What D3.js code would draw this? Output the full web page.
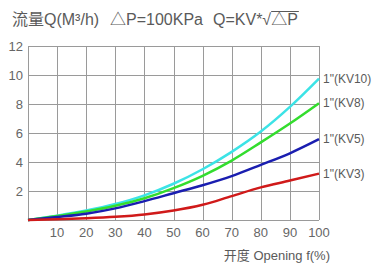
<!DOCTYPE html>
<html>
<head>
<meta charset="utf-8">
<script src="https://cdn.jsdelivr.net/npm/d3@7"></script>
<style>
  body { margin: 0; background: #fff; }
  text { font-family: "Liberation Sans", "Noto Sans CJK SC", sans-serif; fill: #5a5a5a; }
</style>
</head>
<body>
<div id="chart"></div>
<script>
// chart size
var width = 372,
    height = 264;

var margin = { top: 46, right: 53, bottom: 44, left: 28 };

// data
var openings = [0, 10, 20, 30, 40, 50, 60, 70, 80, 90, 100];
var kv10 = [0, 0.3, 0.65, 1.1, 1.7, 2.5, 3.5, 4.7, 6.1, 7.8, 9.75];
var kv8  = [0, 0.27, 0.58, 0.98, 1.5, 2.2, 3.05, 4.1, 5.35, 6.65, 8.05];
var kv5  = [0, 0.2, 0.43, 0.8, 1.3, 1.85, 2.4, 3.03, 3.8, 4.6, 5.57];
var kv3  = [0, 0.05, 0.12, 0.22, 0.38, 0.65, 1.05, 1.65, 2.25, 2.72, 3.2];
var seriesNames = ['1"(KV10)', '1"(KV8)', '1"(KV5)', '1"(KV3)'];
var seriesColors = ["#3ce3e6", "#33dd2e", "#1a1eb0", "#d01a1a"];
var xTicks = [10, 20, 30, 40, 50, 60, 70, 80, 90, 100];
var yTicks = [2, 4, 6, 8, 10, 12];
var titleParts = ["流量Q(M³/h)", "△P=100KPa", "Q=KV*√"];

var svg = d3.select("#chart")
    .append("svg")
    .attr("width", width)
    .attr("height", height);

var x = d3.scaleLinear().domain([0, 100]).range([margin.left, width - margin.right]);
var y = d3.scaleLinear().domain([0, 12]).range([height - margin.bottom, margin.top]);

// grid
var grid = svg.append("g").attr("stroke", "#9a9a9a").attr("stroke-width", 1);
grid.selectAll(".vg").data([0].concat(xTicks)).enter().append("line")
    .attr("x1", function(d) { return Math.round(x(d)) + 0.5; })
    .attr("x2", function(d) { return Math.round(x(d)) + 0.5; })
    .attr("y1", y(12)).attr("y2", y(0));
grid.selectAll(".hg").data([0].concat(yTicks)).enter().append("line")
    .attr("y1", function(d) { return Math.round(y(d)) + 0.5; })
    .attr("y2", function(d) { return Math.round(y(d)) + 0.5; })
    .attr("x1", x(0)).attr("x2", x(100));

// tick labels
svg.selectAll(".yt").data(yTicks).enter().append("text")
    .attr("x", x(0) - 5)
    .attr("y", function(d) { return y(d); })
    .attr("dy", "0.35em")
    .attr("text-anchor", "end")
    .attr("font-size", "13px")
    .style("fill", "#666")
    .text(function(d) { return d; });

svg.selectAll(".xt").data(xTicks).enter().append("text")
    .attr("x", function(d) { return x(d); })
    .attr("y", y(0) + 17)
    .attr("text-anchor", "middle")
    .attr("font-size", "13px")
    .style("fill", "#666")
    .text(function(d) { return d; });

svg.append("text")
    .attr("x", 330)
    .attr("y", 260)
    .attr("text-anchor", "end")
    .attr("font-size", "13px")
    .text("开度 Opening f(%)");

// curves
var allSeries = [kv10, kv8, kv5, kv3];
var line = d3.line()
    .x(function(d, i) { return x(openings[i]); })
    .y(function(d) { return y(d); })
    .curve(d3.curveMonotoneX);

svg.selectAll(".curve").data(allSeries).enter().append("path")
    .attr("d", line)
    .attr("fill", "none")
    .attr("stroke", function(d, i) { return seriesColors[i]; })
    .attr("stroke-width", 2.5);

svg.selectAll(".lab").data(allSeries).enter().append("text")
    .attr("x", x(100) + 4)
    .attr("y", function(d) { return y(d[d.length - 1]); })
    .attr("dy", "0.35em")
    .attr("font-size", "12px")
    .text(function(d, i) { return seriesNames[i]; });

// title, three pieces spaced apart
var titleX = [12, 110, 213];
svg.selectAll(".tt").data(titleParts).enter().append("text")
    .attr("x", function(d, i) { return titleX[i]; })
    .attr("y", 25)
    .attr("font-size", "16px")
    .text(function(d) { return d; });

var sqrtEnd = 213 + svg.selectAll("text").filter(function(d) { return d === "Q=KV*√"; }).node().getComputedTextLength();
var under = svg.append("text")
    .attr("x", sqrtEnd)
    .attr("y", 25)
    .attr("font-size", "16px")
    .text("△P");
svg.append("line")
    .attr("x1", sqrtEnd).attr("x2", sqrtEnd + under.node().getComputedTextLength() + 1)
    .attr("y1", 11.5).attr("y2", 11.5)
    .attr("stroke", "#5a5a5a").attr("stroke-width", 1);
</script>
</body>
</html>
